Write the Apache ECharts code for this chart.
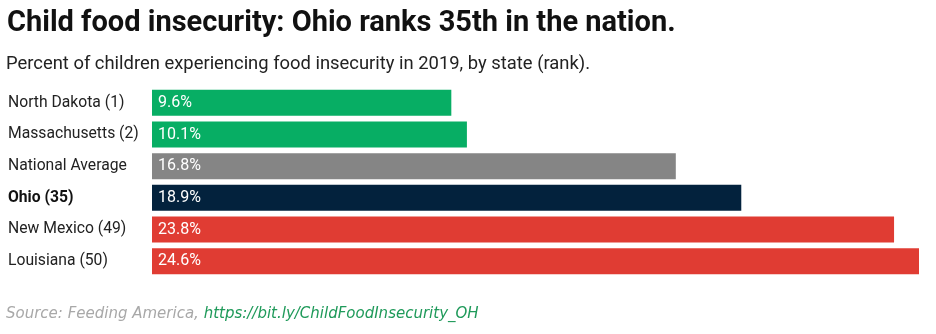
<!DOCTYPE html>
<html><head><meta charset="utf-8">
<script src="https://cdn.jsdelivr.net/npm/echarts@6/dist/echarts.min.js"></script>
<style>html,body{margin:0;padding:0;background:#fff}#c{width:936px;height:334px}</style>
</head><body><div id="c"></div>
<script>
const categories = ['North Dakota (1)', 'Massachusetts (2)', 'National Average', 'Ohio (35)', 'New Mexico (49)', 'Louisiana (50)'];
const values = [9.6, 10.1, 16.8, 18.9, 23.8, 24.6];
const barColors = ['#07ae64', '#07ae64', '#858585', '#03223d', '#e03c33', '#e03c33'];
const highlight = 'Ohio (35)';

const chart = echarts.init(document.getElementById('c'));
chart.setOption({
  animation: false,
  backgroundColor: '#fff',
  title: [{
    text: 'Child food insecurity: Ohio ranks 35th in the nation.',
    left: 7, top: 9, padding: 0,
    textStyle: { fontFamily: 'Roboto', fontWeight: 'bold', fontSize: 29, color: '#111' }
  }, {
    text: 'Percent of children experiencing food insecurity in 2019, by state (rank).',
    left: 6, top: 55, padding: 0,
    textStyle: { fontFamily: 'Roboto', fontWeight: 'normal', fontSize: 18.4, color: '#222' }
  }],
  graphic: [{
    type: 'text', left: 6, top: 307,
    style: {
      text: '{a|Source: Feeding America, }{b|https://bit.ly/ChildFoodInsecurity_OH}',
      rich: {
        a: { fontFamily: 'DejaVu Sans', fontStyle: 'italic', fontSize: 15, fill: '#a8a8a8' },
        b: { fontFamily: 'DejaVu Sans', fontStyle: 'italic', fontSize: 15, fill: '#1f9a5a' }
      }
    }
  }],
  grid: { left: 152, right: 17, top: 87, height: 190, containLabel: false },
  xAxis: { type: 'value', min: 0, max: 24.6, show: false },
  yAxis: {
    type: 'category', data: categories, inverse: true,
    axisLine: { show: false }, axisTick: { show: false },
    axisLabel: {
      align: 'left', margin: 144,
      formatter: v => v === highlight ? '{b|' + v + '}' : '{n|' + v + '}',
      rich: {
        n: { fontFamily: 'Roboto', fontSize: 15.7, color: '#222' },
        b: { fontFamily: 'Roboto', fontSize: 15.7, fontWeight: 'bold', color: '#111' }
      }
    }
  },
  series: [{
    type: 'bar', barWidth: 26,
    data: values.map((v, i) => ({ value: v, itemStyle: { color: barColors[i] } })),
    label: {
      show: true, position: 'insideLeft', distance: 6,
      formatter: p => p.value.toFixed(1) + '%',
      fontFamily: 'Roboto', fontSize: 16, color: '#fff'
    }
  }]
});
</script></body></html>
